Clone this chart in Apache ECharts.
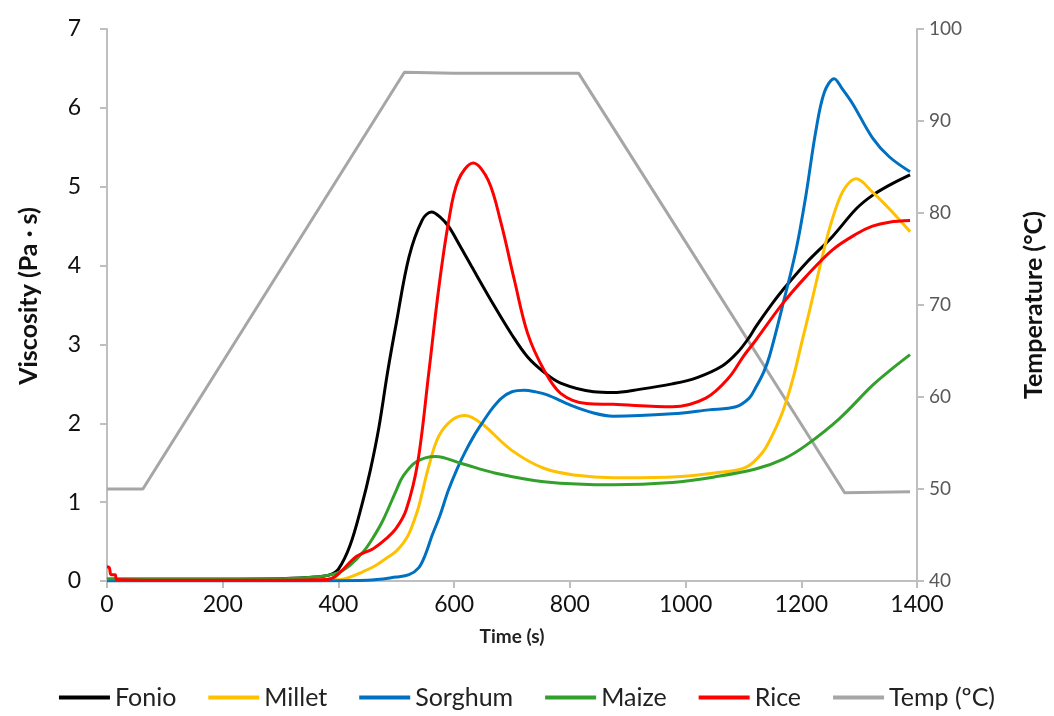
<!DOCTYPE html>
<html>
<head>
<meta charset="utf-8">
<script src="https://cdn.jsdelivr.net/npm/echarts@6/dist/echarts.min.js"></script>
<style>
html,body{margin:0;padding:0;background:#fff;}
#chart{width:1054px;height:716px;}
</style>
</head>
<body>
<div id="chart"></div>
<script>
// ---- data (time s, value) ----
const seriesNames = ['Fonio', 'Millet', 'Sorghum', 'Maize', 'Rice', 'Temp (ºC)'];
const xTicks = [0, 200, 400, 600, 800, 1000, 1200, 1400];

const fonio = [[0,0.02],[100,0.02],[200,0.02],[300,0.03],[360,0.05],[386,0.08],[400,0.15],[420,0.45],[440,0.95],[455,1.4],[470,1.95],[485,2.65],[500,3.27],[522,4.11],[545,4.58],[561,4.68],[575,4.62],[591,4.49],[610,4.25],[630,3.99],[670,3.48],[700,3.12],[727,2.84],[755,2.65],[784,2.51],[841,2.40],[875,2.39],[920,2.43],[977,2.50],[1020,2.58],[1064,2.73],[1090,2.9],[1110,3.09],[1121,3.22],[1150,3.52],[1168,3.69],[1208,4.03],[1254,4.37],[1295,4.72],[1323,4.89],[1355,5.03],[1388,5.15]];

const millet = [[0,0.01],[200,0.01],[380,0.01],[405,0.02],[420,0.05],[443,0.12],[465,0.2],[485,0.3],[500,0.38],[512,0.48],[522,0.6],[530,0.75],[539,0.95],[556,1.45],[573,1.83],[596,2.04],[619,2.10],[647,2.0],[699,1.66],[755,1.43],[812,1.34],[875,1.31],[977,1.32],[1050,1.37],[1104,1.44],[1133,1.63],[1150,1.85],[1168,2.15],[1185,2.55],[1200,3.0],[1215,3.45],[1231,3.95],[1248,4.45],[1266,4.85],[1280,5.03],[1295,5.10],[1323,4.93],[1352,4.72],[1388,4.43]];

const sorghum = [[0,0.0],[300,0.0],[450,0.01],[500,0.05],[522,0.08],[539,0.17],[550,0.33],[562,0.58],[575,0.82],[590,1.15],[605,1.42],[620,1.65],[635,1.85],[650,2.02],[665,2.18],[682,2.32],[700,2.40],[721,2.42],[740,2.40],[761,2.36],[801,2.23],[841,2.13],[875,2.09],[977,2.12],[1040,2.17],[1087,2.21],[1110,2.32],[1121,2.45],[1135,2.65],[1145,2.85],[1168,3.5],[1191,4.2],[1208,4.89],[1225,5.7],[1240,6.2],[1257,6.37],[1270,6.25],[1289,6.05],[1323,5.62],[1352,5.38],[1388,5.19]];

const maize = [[0,0.03],[100,0.03],[300,0.03],[360,0.05],[397,0.10],[420,0.2],[443,0.37],[460,0.55],[477,0.77],[500,1.15],[511,1.32],[534,1.51],[568,1.58],[613,1.49],[670,1.37],[755,1.26],[875,1.22],[977,1.25],[1050,1.32],[1121,1.42],[1170,1.55],[1208,1.72],[1266,2.06],[1323,2.48],[1355,2.68],[1388,2.87]];

const rice = [[0,0.18],[4,0.17],[7,0.08],[14,0.08],[17,0.02],[100,0.01],[300,0.01],[380,0.02],[397,0.07],[431,0.31],[460,0.41],[483,0.54],[500,0.67],[517,0.9],[537,1.5],[556,2.63],[573,3.69],[590,4.54],[607,5.08],[633,5.30],[659,5.08],[681,4.54],[704,3.82],[727,3.14],[755,2.68],[784,2.38],[829,2.25],[875,2.24],[977,2.21],[1035,2.32],[1075,2.58],[1100,2.85],[1121,3.05],[1168,3.52],[1208,3.86],[1254,4.20],[1295,4.40],[1323,4.50],[1352,4.55],[1388,4.57]];

const temp = [[0,50],[62,50],[514,95.3],[600,95.2],[815,95.2],[1275,49.6],[1388,49.7]];

const colors = ['#000000', '#FFC000', '#0070C0', '#33A02C', '#FF0000', '#A6A6A6'];
const viscData = [fonio, millet, sorghum, maize, rice];

const chart = echarts.init(document.getElementById('chart'), null, {renderer: 'canvas'});
const FONT = 'Lato';
const axisGray = '#BFBFBF';

const series = viscData.map((d, i) => ({
  name: seriesNames[i],
  type: 'line',
  data: d,
  yAxisIndex: 0,
  showSymbol: false,
  symbol: 'none',
  smooth: 0.35,
  lineStyle: {color: colors[i], width: 3},
  itemStyle: {color: colors[i]},
  z: 3 + i
}));
series.push({
  name: seriesNames[5],
  type: 'line',
  data: temp,
  yAxisIndex: 1,
  showSymbol: false,
  symbol: 'none',
  smooth: false,
  lineStyle: {color: colors[5], width: 3},
  itemStyle: {color: colors[5]},
  z: 2
});
const order = [5, 0, 1, 2, 3, 4];

chart.setOption({
  animation: false,
  backgroundColor: '#fff',
  grid: {left: 107, right: 126, top: 29, bottom: 135, containLabel: false},
  legend: {
    data: seriesNames,
    bottom: 1,
    left: 'center',
    icon: 'rect',
    itemWidth: 51,
    itemHeight: 4,
    itemGap: 32,
    textStyle: {fontFamily: FONT, fontSize: 25, color: '#222'}
  },
  xAxis: {
    type: 'value',
    min: 0, max: 1400, interval: 200,
    name: 'Time (s)',
    nameLocation: 'middle',
    nameGap: 46,
    nameTextStyle: {fontFamily: FONT, fontSize: 19, fontWeight: 'bold', color: '#222'},
    axisLine: {show: true, onZero: false, lineStyle: {color: axisGray, width: 2}},
    axisTick: {show: true, length: 7, lineStyle: {color: axisGray, width: 2}},
    axisLabel: {fontFamily: FONT, fontSize: 23, color: '#111', margin: 12, formatter: v => String(v)},
    splitLine: {show: false}
  },
  yAxis: [{
    type: 'value',
    min: 0, max: 7, interval: 1,
    position: 'left',
    name: 'Viscosity (Pa · s)',
    nameLocation: 'middle',
    nameRotate: 90,
    nameGap: 66,
    nameTextStyle: {fontFamily: FONT, fontSize: 25, fontWeight: 'bold', color: '#111', padding: [0, 0, 0, 18]},
    axisLine: {show: true, lineStyle: {color: axisGray, width: 2}},
    axisTick: {show: true, length: 7, lineStyle: {color: axisGray, width: 2}},
    axisLabel: {fontFamily: FONT, fontSize: 23, color: '#111', margin: 26, formatter: v => String(v)},
    splitLine: {show: false}
  }, {
    type: 'value',
    min: 40, max: 100, interval: 10,
    position: 'right',
    name: 'Temperature (°C)',
    nameLocation: 'middle',
    nameRotate: 90,
    nameGap: 104,
    nameTextStyle: {fontFamily: FONT, fontSize: 25, fontWeight: 'bold', color: '#111'},
    axisLine: {show: true, lineStyle: {color: axisGray, width: 2}},
    axisTick: {show: true, length: 7, lineStyle: {color: axisGray, width: 2}},
    axisLabel: {fontFamily: FONT, fontSize: 19, color: '#595959', margin: 12, formatter: v => String(v)},
    splitLine: {show: false}
  }],
  series: order.map(i => series[i])
});
</script>
</body>
</html>
